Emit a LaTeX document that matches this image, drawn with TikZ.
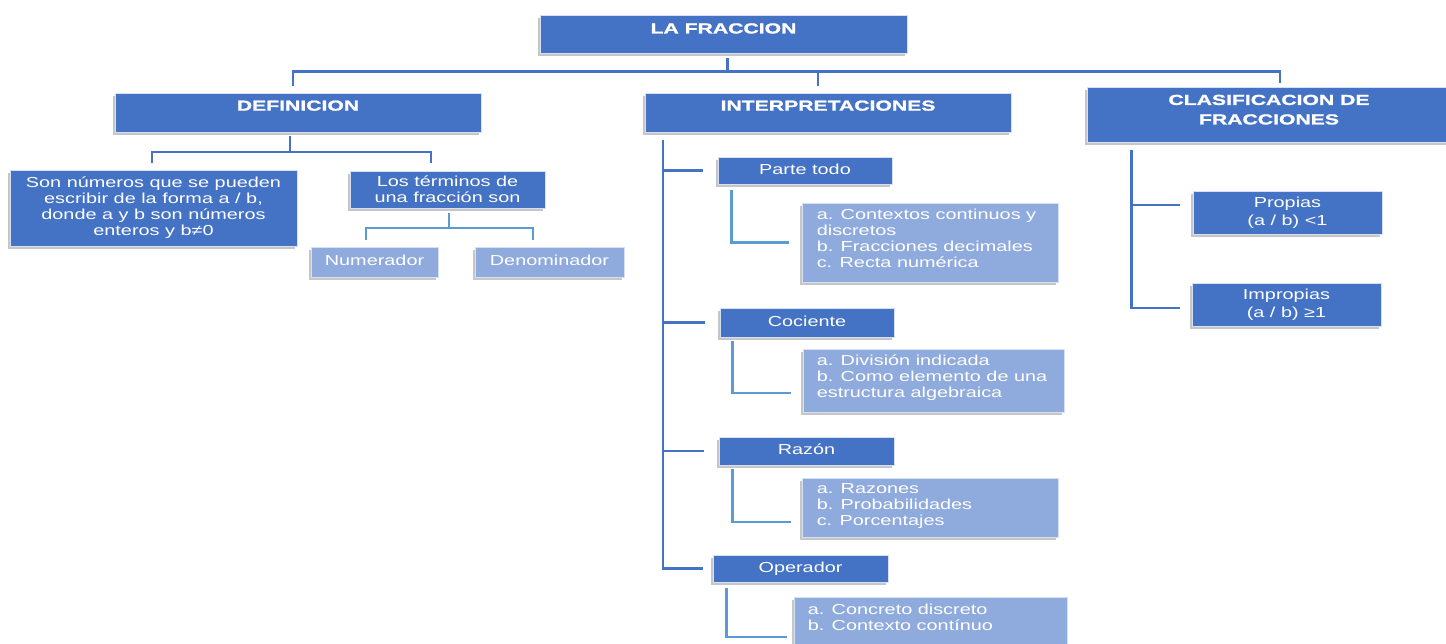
\documentclass[tikz,border=0pt]{standalone}
\usepackage{fontspec}
\setmainfont{Liberation Sans}[FakeStretch=1.37]
\newfontfamily\headfont{Liberation Sans}[FakeStretch=1.46,BoldFeatures={FakeBold=1.3}]
\usetikzlibrary{shadows}

\definecolor{dkblue}{RGB}{68,114,196}
\definecolor{ltblue}{RGB}{143,170,220}
\definecolor{lnblue}{RGB}{91,155,213}
\definecolor{rimblue}{RGB}{214,224,243}

\begin{document}
\begin{tikzpicture}[x=1pt, y=-1pt]
        \tikzstyle{box}=[rectangle,draw=rimblue,line width=0.8pt,inner sep=0pt,text=white,drop shadow={shadow xshift=-2.5pt,shadow yshift=-2.5pt,opacity=0.45}]
        \tikzstyle{head}=[box,fill=dkblue]
        \tikzstyle{headtext}=[inner sep=0pt,text=white,align=center,anchor=north,font=\headfont\bfseries\fontsize{14.5}{19.5}\selectfont]
        \tikzstyle{item}=[box,fill=dkblue,font=\fontsize{14.5}{16}\selectfont,text height=10.5pt,text depth=3pt]
        \tikzstyle{leaf}=[item,fill=ltblue]
        \tikzstyle{note}=[box,fill=dkblue,align=center,font=\fontsize{14.5}{16}\selectfont]
        \tikzstyle{list}=[box,fill=ltblue]
        \tikzstyle{listtext}=[inner sep=0pt,text=white,align=left,anchor=north west,font=\fontsize{14.5}{16}\selectfont]
        \tikzstyle{link}=[draw=dkblue,line width=2.5pt]
        \tikzstyle{sublink}=[draw=lnblue,line width=2.5pt]

        \useasboundingbox (0,0) rectangle (1446,643);

        % headers
        \node[head,minimum width=367pt,minimum height=38pt] (Frac) at (723.5,34) {};
        \node[headtext] (Frac_t) at ([yshift=-8.5pt]Frac.north) {LA FRACCION};
        \node[head,minimum width=366pt,minimum height=39pt] (Def) at (298,112.5) {};
        \node[headtext] (Def_t) at ([yshift=-7.7pt]Def.north) {DEFINICION};
        \node[head,minimum width=366pt,minimum height=39pt] (Int) at (828,112.5) {};
        \node[headtext] (Int_t) at ([yshift=-7.7pt]Int.north) {INTERPRETACIONES};
        \node[head,minimum width=364pt,minimum height=55pt] (Clas) at (1269,114.5) {};
        \node[headtext] (Clas_t) at ([yshift=-8pt]Clas.north) {CLASIFICACION DE\\FRACCIONES};

        % definicion
        \node[note,minimum width=287pt,minimum height=76pt] (Def_1) at (153.5,208) {Son números que se pueden\\escribir de la forma a / b,\\donde a y b son números\\enteros y b≠0};
        \node[note,minimum width=195pt,minimum height=37pt] (Def_2) at (447.5,189.5) {Los términos de\\una fracción son};
        \node[leaf,minimum width=127pt,minimum height=30pt] (Def_3) at (374.5,262) {Numerador};
        \node[leaf,minimum width=149pt,minimum height=30pt] (Def_4) at (549.5,262) {Denominador};

        % interpretaciones
        \node[item,minimum width=174pt,minimum height=27pt] (Int_1) at (805,170.5) {Parte todo};
        \node[list,minimum width=256pt,minimum height=79pt] (Int_1a) at (930,242.5) {};
        \node[listtext] (Int_1t) at ([xshift=15pt,yshift=-6pt]Int_1a.north west) {a. Contextos continuos y\\discretos\\b. Fracciones decimales\\c. Recta numérica};
        \node[item,minimum width=174pt,minimum height=29pt] (Int_2) at (807,322.5) {Cociente};
        \node[list,minimum width=261pt,minimum height=63pt] (Int_2a) at (933.5,380.5) {};
        \node[listtext] (Int_2t) at ([xshift=14pt,yshift=-6pt]Int_2a.north west) {a. División indicada\\b. Como elemento de una\\estructura algebraica};
        \node[item,minimum width=175pt,minimum height=28pt] (Int_3) at (806.5,451) {Razón};
        \node[list,minimum width=256pt,minimum height=59pt] (Int_3a) at (930,507.5) {};
        \node[listtext] (Int_3t) at ([xshift=15pt,yshift=-6pt]Int_3a.north west) {a. Razones\\b. Probabilidades\\c. Porcentajes};
        \node[item,minimum width=175pt,minimum height=27pt] (Int_4) at (800.5,568.5) {Operador};
        \node[list,minimum width=273pt,minimum height=50pt] (Int_4a) at (930.5,622) {};
        \node[listtext] (Int_4t) at ([xshift=14pt,yshift=-7pt]Int_4a.north west) {a. Concreto discreto\\b. Contexto contínuo};

        % clasificacion
        \node[note,minimum width=189pt,minimum height=43pt,font=\fontsize{14.5}{17.5}\selectfont] (Clas_1) at (1287.5,212.5) {Propias\\(a / b) <1};
        \node[note,minimum width=189pt,minimum height=43pt,font=\fontsize{14.5}{17.5}\selectfont] (Clas_2) at (1286.5,304.5) {Impropias\\(a / b) ≥1};

        % connectors
        \coordinate (bus) at (727.5,71.5);
        \draw[link] (bus |- Frac.south) ++(0,5) -- (bus);
        \draw[link] ([xshift=-5pt,yshift=7pt]Def.north) |- (bus) -| ([xshift=11pt,yshift=4pt]Clas.north);
        \coordinate (intdrop) at ([xshift=-10pt,yshift=7pt]Int.north);
        \draw[link] (intdrop) -- (intdrop |- bus);

        \coordinate (defbus) at (290,152);
        \draw[link] ([xshift=-8pt,yshift=-4pt]Def.south) -- (defbus);
        \draw[link] ([xshift=-1.5pt,yshift=7pt]Def_1.north) |- (defbus) -| ([xshift=-16.5pt,yshift=8pt]Def_2.north);
        \coordinate (losbus) at (449,228);
        \draw[sublink] ([xshift=1.5pt,yshift=-5pt]Def_2.south) -- (losbus);
        \draw[sublink] ([xshift=-8.5pt,yshift=7pt]Def_3.north) |- (losbus) -| ([xshift=-16.5pt,yshift=7pt]Def_4.north);

        \coordinate (spine) at (663,140);
        \draw[link] (spine) |- ([xshift=-10pt]Int_4.west);
        \draw[link] (spine |- Int_1.west) -- ([xshift=-15pt]Int_1.west);
        \draw[link] (spine |- Int_2.west) -- ([xshift=-15pt]Int_2.west);
        \draw[link] (spine |- Int_3.west) -- ([xshift=-15pt]Int_3.west);
        \draw[sublink] ([xshift=14pt,yshift=-6pt]Int_1.south west) |- ([xshift=-13pt]Int_1a.west);
        \draw[sublink] ([xshift=13pt,yshift=-4pt]Int_2.south west) |- ([xshift=-12pt,yshift=-12.5pt]Int_2a.west);
        \draw[sublink] ([xshift=14pt,yshift=-4pt]Int_3.south west) |- ([xshift=-11pt,yshift=-14.5pt]Int_3a.west);
        \draw[sublink] ([xshift=14pt,yshift=-6pt]Int_4.south west) |- ([xshift=-7pt,yshift=-15pt]Int_4a.west);

        \coordinate (clastop) at ([xshift=45pt,yshift=-8pt]Clas.south west);
        \coordinate (proptick) at ([xshift=-13pt,yshift=7.5pt]Clas_1.west);
        \draw[link] (clastop) |- ([xshift=-12pt,yshift=-3.5pt]Clas_2.west);
        \draw[link] (clastop |- proptick) -- (proptick);
    \end{tikzpicture}
\end{document}
